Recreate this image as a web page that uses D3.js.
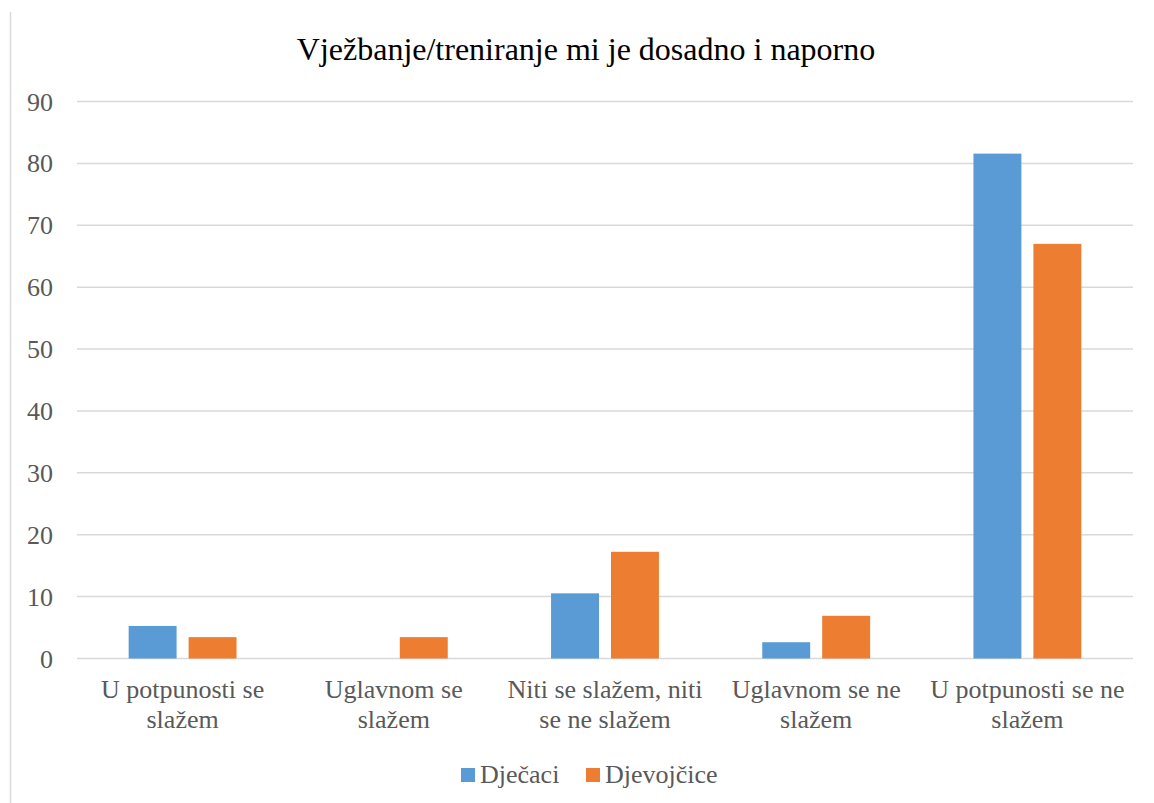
<!DOCTYPE html>
<html>
<head>
<meta charset="utf-8">
<script src="https://cdn.jsdelivr.net/npm/d3@7"></script>
<style>
  body { margin: 0; background: #fff; }
  svg { display: block; font-family: "Liberation Serif", "Times New Roman", serif; }
</style>
</head>
<body>
<svg id="chart" width="1154" height="803"></svg>
<script>
// data
let categories = [
  ["U potpunosti se", "slažem"],
  ["Uglavnom se", "slažem"],
  ["Niti se slažem, niti", "se ne slažem"],
  ["Uglavnom se ne", "slažem"],
  ["U potpunosti se ne", "slažem"]
];
let series_names = ["Dječaci", "Djevojčice"];
let boys = [5.26, 0, 10.53, 2.63, 81.58];
let girls = [3.45, 3.45, 17.24, 6.9, 67.0];
let y_ticks = [0, 10, 20, 30, 40, 50, 60, 70, 80, 90];
let colors = ["#5B9BD5", "#ED7D31"];

let svg = d3.select("#chart");
let margin = {left: 77, right: 21, top: 101.5, bottom: 803 - 658.5};
let width = 1154 - margin.left - margin.right;
let height = 803 - margin.top - margin.bottom;

// left border of the chart frame
svg.append("line")
  .attr("x1", 10.5).attr("x2", 10.5)
  .attr("y1", 12).attr("y2", 803)
  .style("stroke", "#d9d9d9")
  .style("stroke-width", "1.5px");

svg.append("text")
  .attr("x", 586)
  .attr("y", 60)
  .attr("text-anchor", "middle")
  .style("font-size", "32px")
  .style("fill", "#000")
  .text("Vježbanje/treniranje mi je dosadno i naporno");

let g = svg.append("g")
  .attr("transform", `translate(${margin.left},${margin.top})`);

let x = d3.scaleBand()
  .domain(d3.range(categories.length))
  .range([0, width]);

let y = d3.scaleLinear()
  .domain([0, 90])
  .range([height, 0]);

// gridlines
g.selectAll(".grid")
  .data(y_ticks)
  .enter().append("line")
  .attr("class", "grid")
  .attr("x1", 0).attr("x2", width)
  .attr("y1", d => y(d)).attr("y2", d => y(d))
  .style("stroke", "#d9d9d9")
  .style("stroke-width", "1.5px");

// y tick labels
g.selectAll(".ytick")
  .data(y_ticks)
  .enter().append("text")
  .attr("class", "ytick")
  .attr("x", -24)
  .attr("y", d => y(d))
  .attr("dy", "0.35em")
  .attr("text-anchor", "end")
  .style("font-size", "26px")
  .style("fill", "#595959")
  .text(d => d);

let barW = x.bandwidth() * 0.227;
let gap = 12;
let inner = d3.scaleOrdinal().domain([0, 1])
  .range([-(barW + gap / 2), gap / 2]);

[boys, girls].forEach((vals, s) => {
  g.selectAll(".bar" + s)
    .data(vals)
    .enter().append("rect")
    .attr("class", "bar" + s)
    .attr("x", (d, i) => x(i) + x.bandwidth() / 2 + inner(s))
    .attr("width", barW)
    .attr("y", d => y(d))
    .attr("height", d => height - y(d))
    .style("fill", colors[s]);
});

// category labels
let cat = g.selectAll(".cat")
  .data(categories)
  .enter().append("text")
  .attr("class", "cat")
  .attr("text-anchor", "middle")
  .style("font-size", "26px")
  .style("fill", "#595959");

cat.selectAll("tspan")
  .data((d, i) => d.map(t => ({t: t, i: i})))
  .enter().append("tspan")
  .attr("x", d => x(d.i) + x.bandwidth() / 2)
  .attr("y", (d, j) => height + 39.5 + j * 30)
  .text(d => d.t);

// legend
let legend = svg.append("g").attr("transform", "translate(0,783)");
let legX = [461, 586];
series_names.forEach((name, i) => {
  legend.append("rect")
    .attr("x", legX[i])
    .attr("y", -15)
    .attr("width", 14)
    .attr("height", 14)
    .style("fill", colors[i]);
  legend.append("text")
    .attr("x", legX[i] + 19)
    .attr("y", 0)
    .style("font-size", "26px")
    .style("fill", "#595959")
    .text(name);
});
</script>
</body>
</html>
